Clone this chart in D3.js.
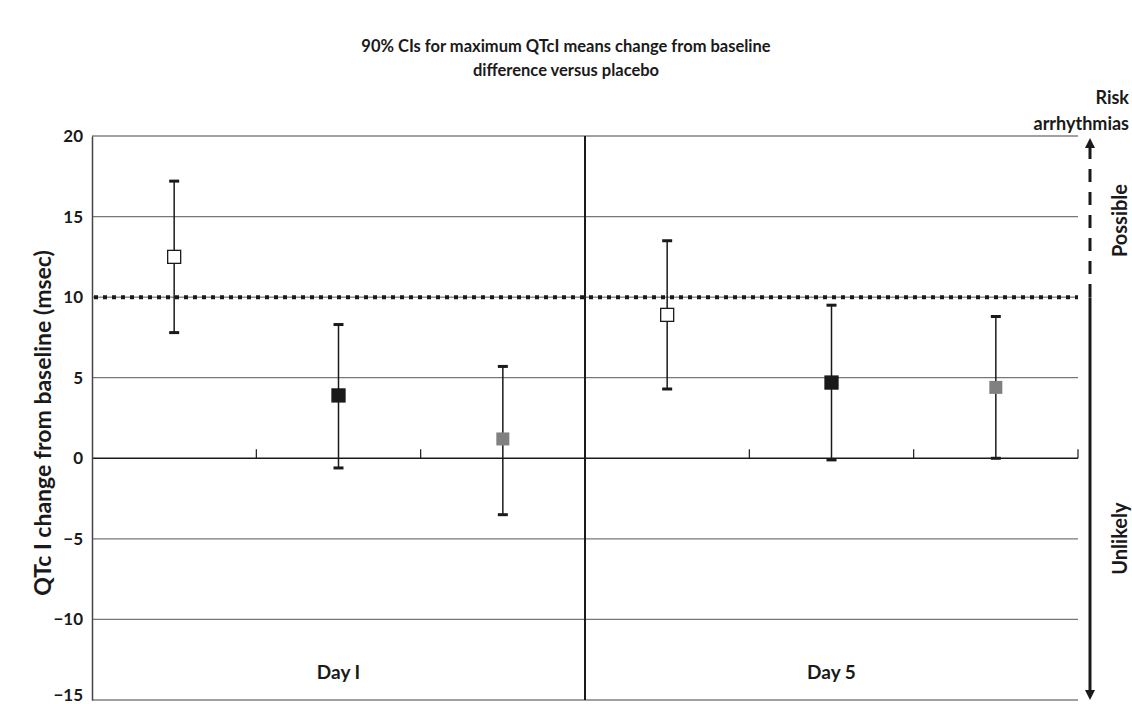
<!DOCTYPE html>
<html>
<head>
<meta charset="utf-8">
<script src="https://cdn.jsdelivr.net/npm/d3@7"></script>
<style>
  body { margin: 0; background: #fff; }
  text { font-family: Lato, "Open Sans", sans-serif; font-weight: 700; fill: #1a1a1a; }
</style>
</head>
<body>
<svg width="1132" height="704"></svg>
<script>
// values
const days = ['Day I', 'Day 5'];
const groups = ['a', 'b', 'c'];
const means = [12.5, 3.9, 1.2, 8.9, 4.7, 4.4];
const lowers = [7.8, -0.6, -3.5, 4.3, -0.1, 0.0];
const uppers = [17.2, 8.3, 5.7, 13.5, 9.5, 8.8];
const fills = ['#fff', '#1a1a1a', '#808080'];
const yTicks = [20, 15, 10, 5, 0, -5, -10, -15];

const svg = d3.select('svg');
const pl = 92, pr = 1078, pt = 136, pb = 700;

const y = d3.scaleLinear().domain([-15, 20]).range([pb, pt]);
const xDay = d3.scaleBand().domain(days).range([pl, pr]);
const xGroup = d3.scaleBand().domain(groups).range([0, xDay.bandwidth()]);

const points = means.map((m, i) => ({
  day: days[Math.floor(i / 3)],
  group: groups[i % 3],
  mean: m, lo: lowers[i], hi: uppers[i],
  fill: fills[i % 3]
}));
const px = d => xDay(d.day) + xGroup(d.group) + xGroup.bandwidth() / 2;

// title
svg.append('text').attr('x', 566).attr('y', 52).attr('text-anchor', 'middle')
   .attr('font-size', 16.5).text('90% CIs for maximum QTcI means change from baseline');
svg.append('text').attr('x', 566).attr('y', 76).attr('text-anchor', 'middle')
   .attr('font-size', 16.5).text('difference versus placebo');

// gridlines
svg.selectAll('.grid')
  .data(yTicks.filter(t => t !== 0 && t !== 10))
  .enter().append('line')
  .attr('x1', pl).attr('x2', pr)
  .attr('y1', d => y(d)).attr('y2', d => y(d))
  .attr('stroke', d => (d === 20 || d === -15) ? '#444' : '#777')
  .attr('stroke-width', 1.2);

// threshold line at 10
svg.append('line').attr('x1', pl).attr('x2', pr)
   .attr('y1', y(10)).attr('y2', y(10)).attr('stroke', '#555').attr('stroke-width', 1);
svg.append('line').attr('x1', pl + 2).attr('x2', pr)
   .attr('y1', y(10)).attr('y2', y(10)).attr('stroke', '#1a1a1a')
   .attr('stroke-width', 4).attr('stroke-dasharray', '4,5');

// zero line with upward ticks
svg.append('line').attr('x1', pl).attr('x2', pr)
   .attr('y1', y(0)).attr('y2', y(0)).attr('stroke', '#1a1a1a').attr('stroke-width', 1.5);
const tickXs = [];
days.forEach(d => groups.forEach((g, j) => { if (j > 0) tickXs.push(xDay(d) + xGroup(g)); }));
tickXs.push(pr);
svg.selectAll('.ztick').data(tickXs).enter().append('line')
   .attr('x1', d => d).attr('x2', d => d)
   .attr('y1', y(0)).attr('y2', y(0) - 9)
   .attr('stroke', '#1a1a1a').attr('stroke-width', 1.2);

// left axis
const yAxis = svg.append('g').attr('transform', `translate(${pl},0)`)
  .call(d3.axisLeft(y).tickValues(yTicks).tickSize(0).tickPadding(9)
        .tickFormat(d => d < 0 ? '\u2212' + Math.abs(d) : d));
yAxis.select('.domain').attr('stroke', '#444').attr('stroke-width', 1.5);
yAxis.selectAll('text').attr('font-size', 17).attr('font-family', 'Lato, sans-serif')
     .attr('font-weight', 700).attr('fill', '#1a1a1a')
     .attr('dy', d => d === -15 ? '0.05em' : '0.32em');

// day divider
svg.append('line').attr('x1', xDay(days[1])).attr('x2', xDay(days[1]))
   .attr('y1', pt).attr('y2', pb).attr('stroke', '#1a1a1a').attr('stroke-width', 2);

// day labels
svg.selectAll('.day').data(days).enter().append('text')
   .attr('x', d => xDay(d) + xDay.bandwidth() / 2).attr('y', 679)
   .attr('text-anchor', 'middle').attr('font-size', 19).text(d => d);

// error bars
const bars = svg.selectAll('.bar').data(points).enter().append('g');
bars.append('line').attr('x1', px).attr('x2', px)
    .attr('y1', d => y(d.lo)).attr('y2', d => y(d.hi))
    .attr('stroke', '#1a1a1a').attr('stroke-width', 1.5);
['lo', 'hi'].forEach(k => {
  bars.append('line').attr('x1', d => px(d) - 5).attr('x2', d => px(d) + 5)
      .attr('y1', d => y(d[k])).attr('y2', d => y(d[k]))
      .attr('stroke', '#1a1a1a').attr('stroke-width', 3);
});
bars.append('rect')
    .attr('x', d => px(d) - 6.5).attr('y', d => y(d.mean) - 6.5)
    .attr('width', 13).attr('height', 13)
    .attr('fill', d => d.fill)
    .attr('stroke', d => d.fill === '#808080' ? 'none' : '#1a1a1a')
    .attr('stroke-width', 1.3);

// risk arrow on the right
const ax = 1090;
svg.append('line').attr('x1', ax).attr('x2', ax).attr('y1', y(20) + 10).attr('y2', y(10))
   .attr('stroke', '#1a1a1a').attr('stroke-width', 3).attr('stroke-dasharray', '13,10');
svg.append('line').attr('x1', ax).attr('x2', ax).attr('y1', y(10)).attr('y2', y(-15) - 8)
   .attr('stroke', '#1a1a1a').attr('stroke-width', 3);
svg.append('path').attr('d', `M${ax - 5},${y(20) + 12}L${ax},${y(20) + 2}L${ax + 5},${y(20) + 12}Z`)
   .attr('fill', '#1a1a1a');
svg.append('path').attr('d', `M${ax - 5},${y(-15) - 10}L${ax},${y(-15)}L${ax + 5},${y(-15) - 10}Z`)
   .attr('fill', '#1a1a1a');

svg.append('text').attr('transform', `translate(1127,${(y(20) + y(10)) / 2 + 4}) rotate(-90)`)
   .attr('text-anchor', 'middle').attr('font-size', 20).text('Possible');
svg.append('text').attr('transform', `translate(1127,${(y(10) + y(-15)) / 2 + 40}) rotate(-90)`)
   .attr('text-anchor', 'middle').attr('font-size', 20).text('Unlikely');
svg.append('text').attr('x', 1129).attr('y', 104).attr('text-anchor', 'end')
   .attr('font-size', 18).text('Risk');
svg.append('text').attr('x', 1129).attr('y', 130).attr('text-anchor', 'end')
   .attr('font-size', 18).text('arrhythmias');

// y axis title
svg.append('text').attr('transform', `translate(51,${(pt + pb) / 2 + 5}) rotate(-90)`)
   .attr('text-anchor', 'middle').attr('font-size', 23)
   .text('QTc I change from baseline (msec)');
</script>
</body>
</html>
